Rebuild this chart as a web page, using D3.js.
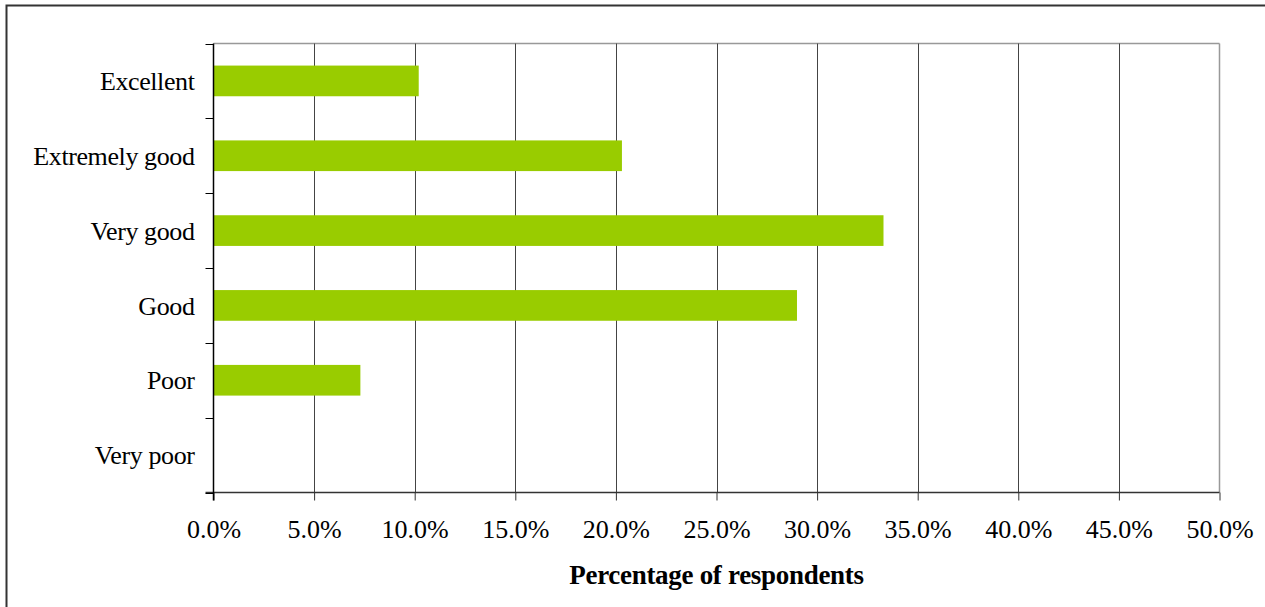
<!DOCTYPE html>
<html>
<head>
<meta charset="utf-8">
<script src="https://cdn.jsdelivr.net/npm/d3@7"></script>
<style>
  html, body { margin: 0; padding: 0; background: #fff; }
  svg text { font-family: "Liberation Serif", "Times New Roman", serif; fill: #000; }
</style>
</head>
<body>
<svg id="chart" width="1265" height="607"></svg>
<script>
// Survey ratings, top to bottom
const categories = ["Excellent", "Extremely good", "Very good", "Good", "Poor", "Very poor"];
// Share of respondents per rating (%)
const shares = [10.2, 20.3, 33.3, 29.0, 7.3, 0.0];
// Horizontal axis ticks (%)
const xTicks = [0, 5, 10, 15, 20, 25, 30, 35, 40, 45, 50];
const xTitle = "Percentage of respondents";

const svg = d3.select("#chart");
const W = 1265, H = 607;
const plot = { left: 213.5, right: 1219.5, top: 43.5, bottom: 492.5 };

// Outer chart frame (extends past the right and bottom edges)
svg.append("rect")
  .attr("x", 6.5).attr("y", 5.5)
  .attr("width", W + 10).attr("height", H + 10)
  .attr("fill", "none").attr("stroke", "#333").attr("stroke-width", 2);

const x = d3.scaleLinear().domain([0, 50]).range([plot.left, plot.right]);
const y = d3.scaleBand().domain(categories).range([plot.top, plot.bottom])
  .paddingInner(0.59).paddingOuter(0.295);
const yBand = d3.scaleBand().domain(categories).range([plot.top, plot.bottom]);

// Plot area border: top and right in grey
svg.append("line")
  .attr("x1", plot.left).attr("x2", plot.right)
  .attr("y1", plot.top).attr("y2", plot.top)
  .attr("stroke", "#999").attr("stroke-width", 1.5);
svg.append("line")
  .attr("x1", plot.right).attr("x2", plot.right)
  .attr("y1", plot.top).attr("y2", plot.bottom)
  .attr("stroke", "#999").attr("stroke-width", 1.5);

// Vertical gridlines
svg.append("g").selectAll("line")
  .data(xTicks.filter(t => t > 0 && t < 50))
  .join("line")
  .attr("x1", d => Math.round(x(d)) + 0.5).attr("x2", d => Math.round(x(d)) + 0.5)
  .attr("y1", plot.top).attr("y2", plot.bottom)
  .attr("stroke", "#444").attr("stroke-width", 1);

// Bars
svg.append("g").selectAll("rect")
  .data(categories.map((c, i) => ({ c, v: shares[i] })))
  .join("rect")
  .attr("x", x(0))
  .attr("y", d => y(d.c))
  .attr("width", d => x(d.v) - x(0))
  .attr("height", y.bandwidth())
  .attr("fill", "#99cc00");

// Horizontal axis
const xAxis = d3.axisBottom(x)
  .tickValues(xTicks)
  .tickSize(8)
  .tickPadding(19)
  .tickFormat(d => d.toFixed(1) + "%");
const gx = svg.append("g").attr("transform", `translate(0,${plot.bottom})`).call(xAxis);
gx.select(".domain").attr("stroke", "#333").attr("stroke-width", 1.5)
  .attr("d", `M${plot.left - 8},0H${plot.right}`);
gx.selectAll(".tick line").attr("stroke", "#333");
gx.selectAll(".tick text")
  .attr("font-family", "Liberation Serif, Times New Roman, serif")
  .attr("font-size", 26).attr("letter-spacing", 0).attr("fill", "#000");

// Vertical axis with ticks on band boundaries
const gy = svg.append("g").attr("transform", `translate(${plot.left},0)`);
gy.append("line").attr("x1", 0).attr("x2", 0)
  .attr("y1", plot.top).attr("y2", plot.bottom + 8)
  .attr("stroke", "#000").attr("stroke-width", 1.5);
const bounds = categories.map(c => yBand(c)).concat([plot.bottom]);
gy.selectAll("line.tk").data(bounds).join("line").attr("class", "tk")
  .attr("x1", -8).attr("x2", 0)
  .attr("y1", d => Math.round(d) + 0.5).attr("y2", d => Math.round(d) + 0.5)
  .attr("stroke", "#000").attr("stroke-width", 1);
gy.selectAll("text").data(categories).join("text")
  .attr("x", -19)
  .attr("y", d => yBand(d) + yBand.bandwidth() / 2)
  .attr("dy", "0.35em")
  .attr("text-anchor", "end")
  .attr("font-size", 26).attr("letter-spacing", -0.4)
  .text(d => d);

// Axis title
svg.append("text")
  .attr("x", (plot.left + plot.right) / 2)
  .attr("y", 584)
  .attr("text-anchor", "middle")
  .attr("font-size", 27).attr("font-weight", "bold").attr("letter-spacing", -0.3)
  .text(xTitle);
</script>
</body>
</html>
